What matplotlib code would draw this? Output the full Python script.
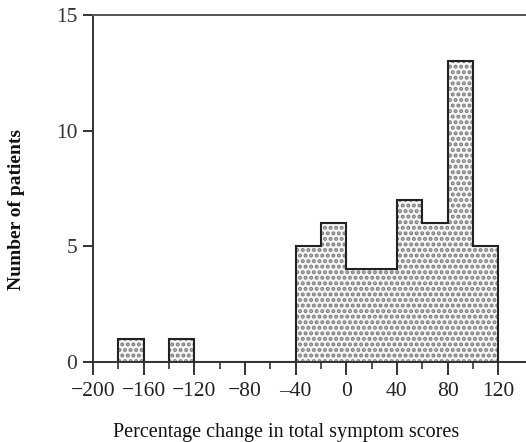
import matplotlib
matplotlib.use("Agg")
import matplotlib.pyplot as plt
import numpy as np

# Data
bin_edges = [-180, -160, -140, -120, -100, -80, -60, -40, -20, 0, 20, 40, 60, 80, 100, 120]
counts = [1, 0, 1, 0, 0, 0, 0, 5, 6, 4, 4, 7, 6, 13, 5]
x_major = [-200, -160, -120, -80, -40, 0, 40, 80, 120]
x_major_labels = ["\u2212200", "\u2212160", "\u2212120", "\u221280", "\u201340", "0", "40", "80", "120"]
x_minor = [-180, -140, -100, -60, -20, 20, 60, 100]
y_ticks = [0, 5, 10, 15]

plt.rcParams['font.family'] = ['Liberation Serif', 'DejaVu Serif']
plt.rcParams['hatch.linewidth'] = 2.0

fig = plt.figure(figsize=(5.26, 4.42), dpi=100)
ax = fig.add_axes([93/526, (442-362)/442, 1 - 93/526, (362-15)/442])

widths = np.diff(bin_edges)
ax.bar(bin_edges[:-1], counts, width=widths, align='edge', facecolor='#f6f6f6',
       edgecolor='#7c7c7c', hatch='...', linewidth=0)
ax.stairs(counts, bin_edges, fill=False, color='#222222', linewidth=1.5, baseline=0)

ax.set_xlim(-200, 142)
ax.set_ylim(0, 15)

ax.set_xticks(x_major)
ax.set_xticklabels(x_major_labels)
ax.set_xticks(x_minor, minor=True)
ax.set_yticks(y_ticks)

ax.spines['right'].set_visible(False)
for s in ['left', 'bottom', 'top']:
    ax.spines[s].set_linewidth(1.4)
    ax.spines[s].set_color('#333333')
ax.spines['top'].set_color('#555555')

ax.tick_params(axis='x', which='major', direction='out', length=9.4, width=1.4, colors='#333333',
               labelsize=15.5, pad=5, labelcolor='#222222')
ax.tick_params(axis='x', which='minor', direction='out', length=5, width=1.2, colors='#333333')
ax.tick_params(axis='y', which='major', direction='out', length=7.2, width=1.4, colors='#333333',
               labelsize=15.5, pad=4, labelcolor='#333333')

fig.text(286/526, (442-432)/442, 'Percentage change in total symptom scores', fontsize=14.5,
         color='#111111', ha='center', va='center')
fig.text(17/526, (442-209)/442, 'Number of patients', fontsize=14, color='#111111',
         fontweight='bold', rotation=90, ha='center', va='center')

fig.savefig('out.png', dpi=100)
